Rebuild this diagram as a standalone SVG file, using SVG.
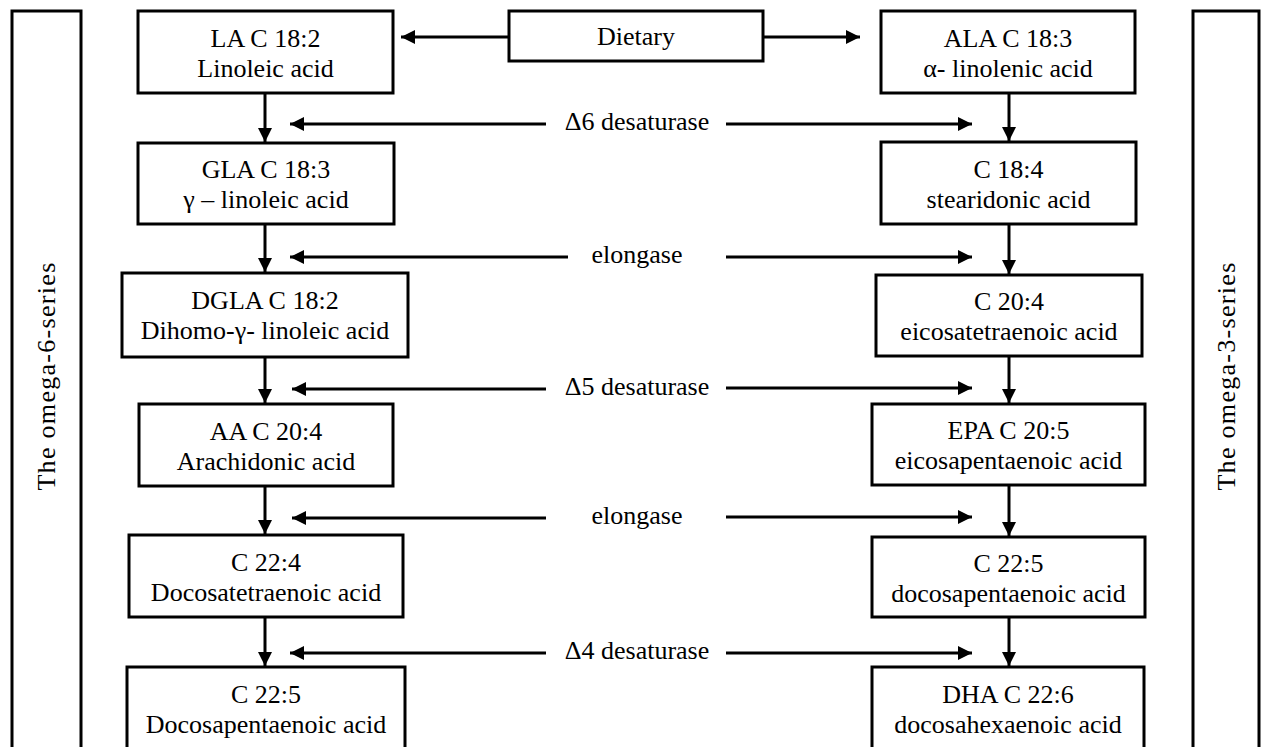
<svg xmlns="http://www.w3.org/2000/svg" width="1262" height="747" viewBox="0 0 1262 747">
<style>
.box{fill:#fff;stroke:#000;stroke-width:3}
.t{font-family:"Liberation Serif","Times New Roman",Times,"DejaVu Serif",serif;font-size:26px;fill:#000;text-anchor:middle}
.ln{stroke:#000;stroke-width:3;fill:none}
.side{letter-spacing:1.3px}
</style>
<defs>
<marker id="ah" viewBox="0 0 14 14" refX="14" refY="7" markerWidth="14" markerHeight="14" markerUnits="userSpaceOnUse" orient="auto">
<path d="M0,0 L14,7 L0,14 z" fill="#000"/>
</marker>
</defs>
<rect width="1262" height="747" fill="#fff"/>

<g id="omega6-label">
<rect class="box" x="12" y="11" width="69" height="750"/>
<text class="t side" transform="translate(55,376) rotate(-90)">The omega-6-series</text>
</g>
<g id="omega3-label">
<rect class="box" x="1193" y="11" width="66" height="750"/>
<text class="t side" transform="translate(1235,376) rotate(-90)">The omega-3-series</text>
</g>

<g id="dietary">
<rect class="box" x="509" y="11" width="254" height="50"/>
<text class="t" x="636" y="45">Dietary</text>
</g>

<g id="LA">
<rect class="box" x="138" y="11" width="255" height="82"/>
<text class="t" x="265.5" y="47">LA C 18:2</text>
<text class="t" x="265.5" y="77">Linoleic acid</text>
</g>
<g id="GLA">
<rect class="box" x="138" y="143" width="256" height="81"/>
<text class="t" x="266" y="178">GLA C 18:3</text>
<text class="t" x="266" y="208">γ – linoleic acid</text>
</g>
<g id="DGLA">
<rect class="box" x="122" y="273" width="286" height="84"/>
<text class="t" x="265" y="309">DGLA C 18:2</text>
<text class="t" x="265" y="339">Dihomo-γ- linoleic acid</text>
</g>
<g id="AA">
<rect class="box" x="139" y="404" width="254" height="82"/>
<text class="t" x="266" y="440">AA C 20:4</text>
<text class="t" x="266" y="470">Arachidonic acid</text>
</g>
<g id="C224">
<rect class="box" x="129" y="535" width="274" height="82"/>
<text class="t" x="266" y="571">C 22:4</text>
<text class="t" x="266" y="601">Docosatetraenoic acid</text>
</g>
<g id="C225L">
<rect class="box" x="127" y="667" width="278" height="95"/>
<text class="t" x="266" y="703">C 22:5</text>
<text class="t" x="266" y="733">Docosapentaenoic acid</text>
</g>

<g id="ALA">
<rect class="box" x="881" y="11" width="254" height="82"/>
<text class="t" x="1008" y="47">ALA C 18:3</text>
<text class="t" x="1008" y="77">α- linolenic acid</text>
</g>
<g id="C184">
<rect class="box" x="881" y="142" width="255" height="82"/>
<text class="t" x="1008.5" y="178">C 18:4</text>
<text class="t" x="1008.5" y="208">stearidonic acid</text>
</g>
<g id="C204">
<rect class="box" x="876" y="275" width="266" height="81"/>
<text class="t" x="1009" y="310">C 20:4</text>
<text class="t" x="1009" y="340">eicosatetraenoic acid</text>
</g>
<g id="EPA">
<rect class="box" x="872" y="404" width="273" height="81"/>
<text class="t" x="1008.5" y="439">EPA C 20:5</text>
<text class="t" x="1008.5" y="469">eicosapentaenoic acid</text>
</g>
<g id="C225R">
<rect class="box" x="872" y="537" width="273" height="80"/>
<text class="t" x="1008.5" y="572">C 22:5</text>
<text class="t" x="1008.5" y="602">docosapentaenoic acid</text>
</g>
<g id="DHA">
<rect class="box" x="872" y="667" width="272" height="95"/>
<text class="t" x="1008" y="703">DHA C 22:6</text>
<text class="t" x="1008" y="733">docosahexaenoic acid</text>
</g>

<g id="enzymes">
<text class="t" x="637" y="130">Δ6 desaturase</text>
<text class="t" x="637" y="263">elongase</text>
<text class="t" x="637" y="395">Δ5 desaturase</text>
<text class="t" x="637" y="524">elongase</text>
<text class="t" x="637" y="659">Δ4 desaturase</text>
</g>

<g id="connectors">
<line class="ln" x1="509" y1="37" x2="401" y2="37" marker-end="url(#ah)"/>
<line class="ln" x1="763" y1="37" x2="860" y2="37" marker-end="url(#ah)"/>

<line class="ln" x1="265" y1="93" x2="265" y2="142" marker-end="url(#ah)"/>
<line class="ln" x1="265" y1="224" x2="265" y2="272" marker-end="url(#ah)"/>
<line class="ln" x1="265" y1="357" x2="265" y2="403" marker-end="url(#ah)"/>
<line class="ln" x1="265" y1="486" x2="265" y2="534" marker-end="url(#ah)"/>
<line class="ln" x1="265" y1="617" x2="265" y2="666" marker-end="url(#ah)"/>

<line class="ln" x1="1009" y1="93" x2="1009" y2="141" marker-end="url(#ah)"/>
<line class="ln" x1="1009" y1="224" x2="1009" y2="274" marker-end="url(#ah)"/>
<line class="ln" x1="1009" y1="356" x2="1009" y2="403" marker-end="url(#ah)"/>
<line class="ln" x1="1009" y1="485" x2="1009" y2="536" marker-end="url(#ah)"/>
<line class="ln" x1="1009" y1="617" x2="1009" y2="666" marker-end="url(#ah)"/>

<line class="ln" x1="546" y1="124" x2="290" y2="124" marker-end="url(#ah)"/>
<line class="ln" x1="726" y1="124" x2="972" y2="124" marker-end="url(#ah)"/>
<line class="ln" x1="568" y1="257" x2="290" y2="257" marker-end="url(#ah)"/>
<line class="ln" x1="726" y1="257" x2="972" y2="257" marker-end="url(#ah)"/>
<line class="ln" x1="546" y1="389" x2="292" y2="389" marker-end="url(#ah)"/>
<line class="ln" x1="726" y1="388" x2="972" y2="388" marker-end="url(#ah)"/>
<line class="ln" x1="546" y1="518" x2="292" y2="518" marker-end="url(#ah)"/>
<line class="ln" x1="726" y1="517" x2="972" y2="517" marker-end="url(#ah)"/>
<line class="ln" x1="546" y1="653" x2="290" y2="653" marker-end="url(#ah)"/>
<line class="ln" x1="726" y1="653" x2="972" y2="653" marker-end="url(#ah)"/>
</g>
</svg>
